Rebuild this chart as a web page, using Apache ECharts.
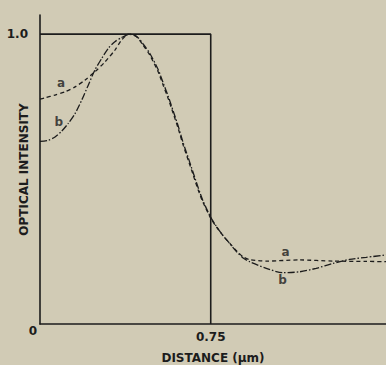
<!DOCTYPE html>
<html>
<head>
<meta charset="utf-8">
<script src="https://cdn.jsdelivr.net/npm/echarts@6/dist/echarts.min.js"></script>
<style>
  html, body { margin: 0; padding: 0; background: #d1cbb5; }
  #chart { width: 386px; height: 365px; }
</style>
</head>
<body>
<div id="chart"></div>
<script>
// curve a (dashed)
var xA = [0, 0.022, 0.066, 0.11, 0.154, 0.197, 0.241, 0.285, 0.329, 0.358, 0.39, 0.424, 0.453, 0.482, 0.519, 0.541, 0.563, 0.585, 0.607, 0.629, 0.651, 0.673, 0.695, 0.716, 0.75, 0.775, 0.804, 0.833, 0.863, 0.892, 0.921, 0.994, 1.14, 1.287, 1.433, 1.52];
var yA = [0.776, 0.78, 0.79, 0.801, 0.818, 0.841, 0.87, 0.904, 0.945, 0.979, 1.0, 0.991, 0.962, 0.928, 0.87, 0.824, 0.778, 0.727, 0.675, 0.617, 0.566, 0.514, 0.462, 0.42, 0.365, 0.335, 0.305, 0.279, 0.253, 0.232, 0.222, 0.217, 0.221, 0.217, 0.216, 0.215];
// curve b (dash-dot)
var xB = [0, 0.037, 0.066, 0.095, 0.124, 0.154, 0.183, 0.212, 0.241, 0.271, 0.3, 0.329, 0.358, 0.395, 0.424, 0.453, 0.482, 0.519, 0.541, 0.563, 0.585, 0.607, 0.629, 0.651, 0.673, 0.695, 0.716, 0.75, 0.775, 0.804, 0.833, 0.863, 0.892, 0.921, 0.994, 1.067, 1.14, 1.213, 1.287, 1.36, 1.433, 1.52];
var yB = [0.63, 0.634, 0.645, 0.665, 0.692, 0.726, 0.772, 0.824, 0.876, 0.916, 0.951, 0.974, 0.988, 1.0, 0.993, 0.966, 0.934, 0.878, 0.832, 0.786, 0.735, 0.683, 0.625, 0.574, 0.522, 0.47, 0.425, 0.368, 0.337, 0.305, 0.278, 0.25, 0.228, 0.215, 0.192, 0.177, 0.18, 0.192, 0.209, 0.223, 0.23, 0.238];
// reference box (aperture edge)
var boxX = [0, 0.75, 0.75];
var boxY = [1, 1, 0];
// curve tags
var tagNames = ['a', 'b', 'a', 'b'];
var tagX = [0.092, 0.083, 1.079, 1.066];
var tagY = [0.831, 0.697, 0.248, 0.152];
var xTicks = [0.75];

function pairs(xs, ys) {
    return xs.map(function (x, i) { return [x, ys[i]]; });
}

var ink = '#1c1c1c';
var font = 'DejaVu Sans';
var dom = document.getElementById('chart');
var myChart = echarts.init(dom, null, { renderer: 'svg' });
myChart.setOption({
    backgroundColor: '#d1cbb5',
    animation: false,
    grid: { left: 40, top: 15, right: 0, bottom: 41, containLabel: false, outerBoundsMode: 'none' },
    xAxis: {
        type: 'value',
        min: 0,
        max: 1.52,
        interval: 0.75,
        name: 'DISTANCE (\u03bcm)',
        nameLocation: 'middle',
        nameGap: 28,
        nameMoveOverlap: false,
        nameTextStyle: { color: ink, fontSize: 12, fontWeight: 'bold', fontFamily: font },
        axisLine: { lineStyle: { color: ink, width: 1.6 } },
        axisTick: { show: false },
        splitLine: { show: false },
        axisLabel: {
            margin: 7,
            color: ink,
            fontSize: 12,
            fontWeight: 'bold',
            fontFamily: font,
            formatter: function (v) {
                return xTicks.indexOf(v) >= 0 ? String(v) : '';
            }
        }
    },
    yAxis: {
        type: 'value',
        min: 0,
        max: 1.066,
        interval: 0.5,
        name: 'OPTICAL INTENSITY',
        nameLocation: 'middle',
        nameGap: 10,
        nameMoveOverlap: false,
        nameTextStyle: { color: ink, fontSize: 12, fontWeight: 'bold', fontFamily: font },
        axisLine: { show: true, lineStyle: { color: ink, width: 1.6 } },
        axisTick: { show: false },
        splitLine: { show: false },
        axisLabel: {
            margin: 3,
            color: ink,
            fontSize: 12,
            fontWeight: 'bold',
            fontFamily: font,
            formatter: function (v) {
                if (v === 0) return '{z|0}';
                if (Math.abs(v - 1) < 1e-9) return '{o|1.0}';
                return '';
            },
            rich: {
                z: { padding: [14, 0, 0, 0], color: ink, fontSize: 12, fontWeight: 'bold', fontFamily: font },
                o: { padding: [0, 9, 0, 0], color: ink, fontSize: 12, fontWeight: 'bold', fontFamily: font }
            }
        }
    },
    series: [
        {
            name: 'box',
            type: 'line',
            data: pairs(boxX, boxY),
            symbol: 'none',
            lineStyle: { color: ink, width: 1.6 },
            z: 1
        },
        {
            name: 'a',
            type: 'line',
            data: pairs(xA, yA),
            smooth: 0.25,
            symbol: 'none',
            lineStyle: { color: ink, width: 1.3, type: [4, 3] },
            z: 3
        },
        {
            name: 'b',
            type: 'line',
            data: pairs(xB, yB),
            smooth: 0.25,
            symbol: 'none',
            lineStyle: { color: ink, width: 1.3, type: [7, 2, 1.5, 2] },
            z: 2
        },
        {
            name: 'tags',
            type: 'scatter',
            symbolSize: 0,
            data: tagX.map(function (x, i) { return { value: [x, tagY[i]], name: tagNames[i] }; }),
            label: {
                show: true,
                position: 'inside',
                formatter: function (p) { return p.name; },
                color: ink,
                fontSize: 12,
                fontWeight: 'bold',
                fontFamily: font
            }
        }
    ]
});
window.addEventListener('resize', function () {
    myChart.resize();
});
</script>
</body>
</html>
